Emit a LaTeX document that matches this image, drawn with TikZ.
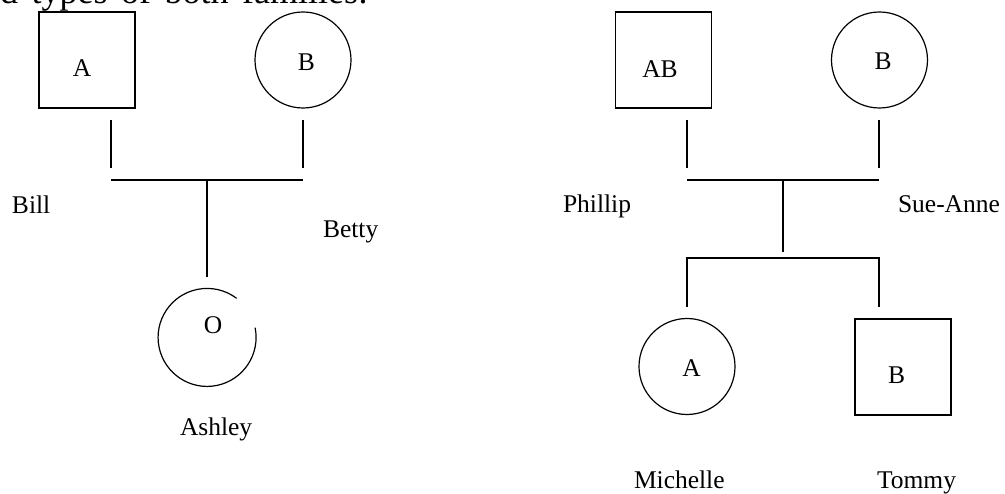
\documentclass[tikz,border=0pt]{standalone}
\usepackage{fontspec}
\setmainfont{Liberation Serif}
\newcommand{\wsp}{\hspace*{13.5pt}}
\begin{document}
\begin{tikzpicture}[x=1pt,y=-1pt,
  every node/.style={inner sep=0pt, outer sep=0pt},
  lbl/.style={font=\fontsize{25.5}{30}\selectfont, anchor=base west},
  gtype/.style={font=\fontsize{25.5}{30}\selectfont, anchor=base},
  heading/.style={font=\fontsize{36}{42}\selectfont, anchor=base east},
  link/.style={line width=1.2pt},
  male/.style={draw, line width=1.2pt, rectangle, minimum size=96pt},
  female/.style={draw, line width=1.2pt, circle, minimum size=96pt},
]
\useasboundingbox (0,0) rectangle (1005,494);
\clip (0,0) rectangle (1005,494);

% heading line, cut by the top edge (justified, so wide word gaps)
\node[heading] (head) at (368,4) {d\wsp types\wsp of\wsp both\wsp families:};

% ---------- first family ----------
\node[male]   (bill)  at (87,60)   {};
\node[female] (betty) at (303,60)  {};
\node[circle, minimum size=98pt] (ashley) at (207,337) {};
\draw[link] (ashley.11.5) arc[start angle=-11.5, end angle=307, radius=49];

\node[gtype] (billtype)   at (82,77)    {A};
\node[gtype] (bettytype)  at (306.5,71) {B};
\node[gtype] (ashleytype) at (213,334)  {O};

\node[lbl] (billname)   at (12,214)  {Bill};
\node[lbl] (bettyname)  at (323,238) {Betty};
\node[lbl] (ashleyname) at (180,436) {Ashley};

\coordinate (bstubtop) at (111,120);
\coordinate (bstubbot) at (111,168);
\coordinate (tstubtop) at (303,120);
\coordinate (tstubbot) at (303,168);
\coordinate (barleft)  at (111,180);
\coordinate (barright) at (303,180);
\coordinate (desctop)  at (207,180);
\coordinate (descbot)  at (207,277);

\draw[link] (bstubtop) -- (bstubbot);
\draw[link] (tstubtop) -- (tstubbot);
\draw[link] (barleft) -- (barright);
\draw[link] (desctop) -- (descbot);

% ---------- second family ----------
\node[male]   (phillip)  at (663.5,60)  {};
\node[female] (sueanne)  at (879.5,60)  {};
\node[female] (michelle) at (687,366.5) {};
\node[male]   (tommy)    at (903,367)   {};

\node[gtype] (phillip type)  at (660,78)    {AB};
\node[gtype] (sueanne type)  at (883,70)    {B};
\node[gtype] (michelle type) at (691.5,377) {A};
\node[gtype] (tommy type)    at (896.5,384) {B};

\node[lbl] (phillip name)  at (563,213) {Phillip};
\node[lbl] (sueanne name)  at (898,213) {Sue-Anne};
\node[lbl] (michelle name) at (634,489) {Michelle};
\node[lbl] (tommy name)    at (877,489) {Tommy};

\coordinate (pstubtop)  at (687,120);
\coordinate (pstubbot)  at (687,168);
\coordinate (sstubtop)  at (879,120);
\coordinate (sstubbot)  at (879,168);
\coordinate (bar2left)  at (687,180);
\coordinate (bar2right) at (879,180);
\coordinate (desc2top)  at (783,180);
\coordinate (desc2bot)  at (783,252);
\coordinate (sibleft)   at (687,258);
\coordinate (sibright)  at (879,258);
\coordinate (mdrop)     at (687,307);
\coordinate (tdrop)     at (879,307);

\draw[link] (pstubtop) -- (pstubbot);
\draw[link] (sstubtop) -- (sstubbot);
\draw[link] (bar2left) -- (bar2right);
\draw[link] (desc2top) -- (desc2bot);
\draw[link] (mdrop) -- (sibleft) -- (sibright) -- (tdrop);
\end{tikzpicture}
\end{document}
